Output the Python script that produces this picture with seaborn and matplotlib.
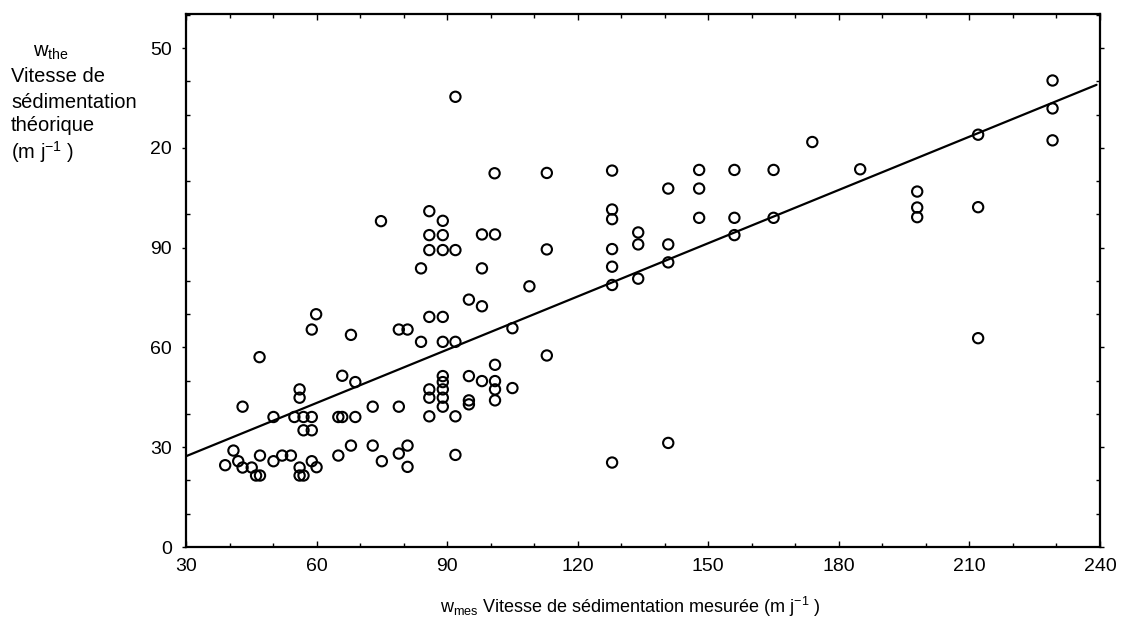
import matplotlib
matplotlib.use("Agg")
import matplotlib.pyplot as plt
import seaborn as sns
import numpy as np
from matplotlib.ticker import MultipleLocator, FixedLocator

# Measured settling velocity (x) and theoretical settling velocity (y), m/day
w_mes = [39.0, 40.9, 42.0, 43.0, 45.1, 46.1, 47.0, 47.0, 43.0, 46.9,
         50.1, 50.1, 52.1, 54.1, 54.9, 56.1, 56.1, 56.1, 56.1, 57.0,
         57.0, 57.0, 58.9, 58.9, 58.9, 60.0, 58.9, 59.9, 65.0, 65.9,
         65.0, 65.9, 67.9, 67.9, 68.9, 68.9, 72.9, 72.9, 75.0, 78.9,
         80.9, 78.9, 78.9, 80.9, 80.9, 84.0, 85.9, 85.9, 85.9, 85.9,
         89.0, 89.0, 89.0, 89.0, 89.0, 89.0, 89.0, 91.9, 91.9, 91.9,
         95.0, 95.0, 95.0, 95.0, 98.0, 98.0, 101.0, 101.0, 101.0, 101.0,
         105.0, 105.0, 112.9, 127.9, 140.8,
         74.8, 85.9, 89.0, 85.9, 89.0, 85.9, 89.0, 91.9, 84.0, 91.9,
         98.0, 101.0, 98.0, 100.9, 112.9, 112.9, 108.9, 127.9, 127.9, 127.9,
         127.9, 127.9, 127.9, 133.9, 133.9, 133.9, 140.8, 140.8, 140.8,
         147.9, 147.9, 147.9, 156.0, 156.0, 156.0, 165.0, 165.0, 173.9, 184.9,
         198.0, 198.0, 198.0, 212.0, 212.0, 229.1, 229.1, 229.1, 212.0]
w_the = [24.6, 29.0, 25.8, 23.9, 23.9, 21.5, 21.5, 27.5, 42.2, 57.1,
         39.1, 25.8, 27.5, 27.5, 39.1, 47.4, 44.9, 23.9, 21.5, 21.5,
         39.1, 35.1, 39.1, 35.1, 25.8, 24.0, 65.4, 70.0, 39.1, 39.1,
         27.5, 51.5, 63.8, 30.5, 49.6, 39.1, 42.2, 30.5, 25.8, 65.4,
         65.4, 42.2, 28.1, 30.5, 24.1, 61.7, 69.2, 47.4, 44.9, 39.3,
         69.2, 61.7, 51.4, 49.6, 47.4, 44.9, 42.2, 61.7, 39.3, 27.7,
         74.4, 51.4, 44.1, 42.9, 72.4, 49.9, 54.8, 49.9, 47.4, 44.1,
         65.8, 47.8, 57.6, 25.4, 31.3,
         98.0, 101.0, 98.1, 93.8, 93.8, 89.3, 89.3, 89.3, 83.8, 135.4,
         94.0, 94.0, 83.8, 112.4, 112.5, 89.5, 78.4, 113.2, 101.5, 98.6,
         89.6, 84.3, 78.8, 94.6, 91.0, 80.7, 107.8, 91.0, 85.6,
         113.4, 107.8, 99.0, 113.4, 99.0, 93.8, 113.4, 99.0, 121.8, 113.6,
         106.9, 102.1, 99.2, 124.0, 102.2, 140.3, 131.9, 122.3, 62.8]

# Fitted line end points
fit_x = [30.0, 239.2]
fit_y = [27.3, 139.0]

y_ticks = [0, 30, 60, 90, 120, 150]
y_tick_labels = ["0", "30", "60", "90", "20", "50"]
x_ticks = [30, 60, 90, 120, 150, 180, 210, 240]
x_tick_labels = ["30", "60", "90", "120", "150", "180", "210", "240"]

sns.set_style("ticks")
plt.rcParams["font.family"] = ["Liberation Sans", "DejaVu Sans"]
plt.rcParams["mathtext.fontset"] = "custom"
plt.rcParams["mathtext.rm"] = "Liberation Sans"
plt.rcParams["mathtext.it"] = "Liberation Sans:italic"
plt.rcParams["mathtext.bf"] = "Liberation Sans:bold"
plt.rcParams["text.color"] = "black"
plt.rcParams["xtick.color"] = "black"
plt.rcParams["ytick.color"] = "black"

fig = plt.figure(figsize=(11.31, 6.27), dpi=100)
ax = fig.add_axes([186 / 1131, 1 - 547 / 627, (1100 - 186) / 1131, (547 - 14) / 627])

sns.scatterplot(x=w_mes, y=w_the, ax=ax, marker="o", s=55,
                facecolor="none", edgecolor="black", linewidth=1.5, zorder=3)
sns.lineplot(x=fit_x, y=fit_y, ax=ax, color="black", linewidth=1.6, zorder=2)

ax.set_xlim(30, 240)
ax.set_ylim(0, 160.3)
ax.xaxis.set_major_locator(FixedLocator(x_ticks))
ax.set_xticklabels(x_tick_labels)
ax.yaxis.set_major_locator(FixedLocator(y_ticks))
ax.set_yticklabels(y_tick_labels)
ax.xaxis.set_minor_locator(MultipleLocator(10))
ax.yaxis.set_minor_locator(MultipleLocator(10))
ax.tick_params(which="both", direction="in", top=True, right=True,
               width=1.0, color="black")
ax.tick_params(which="major", length=4, labelsize=14, pad=8)
ax.tick_params(which="minor", length=3)
ax.tick_params(axis="y", which="major", direction="out", length=3, pad=7)
for sp in ax.spines.values():
    sp.set_visible(True)
    sp.set_linewidth(1.6)
    sp.set_color("black")
ax.set_xlabel("")
ax.set_ylabel("")

# Y axis label block (upper left)
fs = 14.5
fig.text(33 / 1131, 1 - 52 / 627, r"w$_{\mathrm{the}}$", fontsize=fs, va="center", ha="left")
fig.text(11 / 1131, 1 - 76 / 627, "Vitesse de", fontsize=fs, va="center", ha="left")
fig.text(11 / 1131, 1 - 102 / 627, "sédimentation", fontsize=fs, va="center", ha="left")
fig.text(11 / 1131, 1 - 126 / 627, "théorique", fontsize=fs, va="center", ha="left")
fig.text(11 / 1131, 1 - 152 / 627, r"(m j$^{\mathrm{-1}}$ )", fontsize=fs, va="center", ha="left")

# X axis label
fig.text(630 / 1131, 1 - 607 / 627,
         r"w$_{\mathrm{mes}}$ Vitesse de sédimentation mesurée (m j$^{\mathrm{-1}}$ )",
         fontsize=13, va="center", ha="center")

fig.savefig("out.png", dpi=100, facecolor="white")
